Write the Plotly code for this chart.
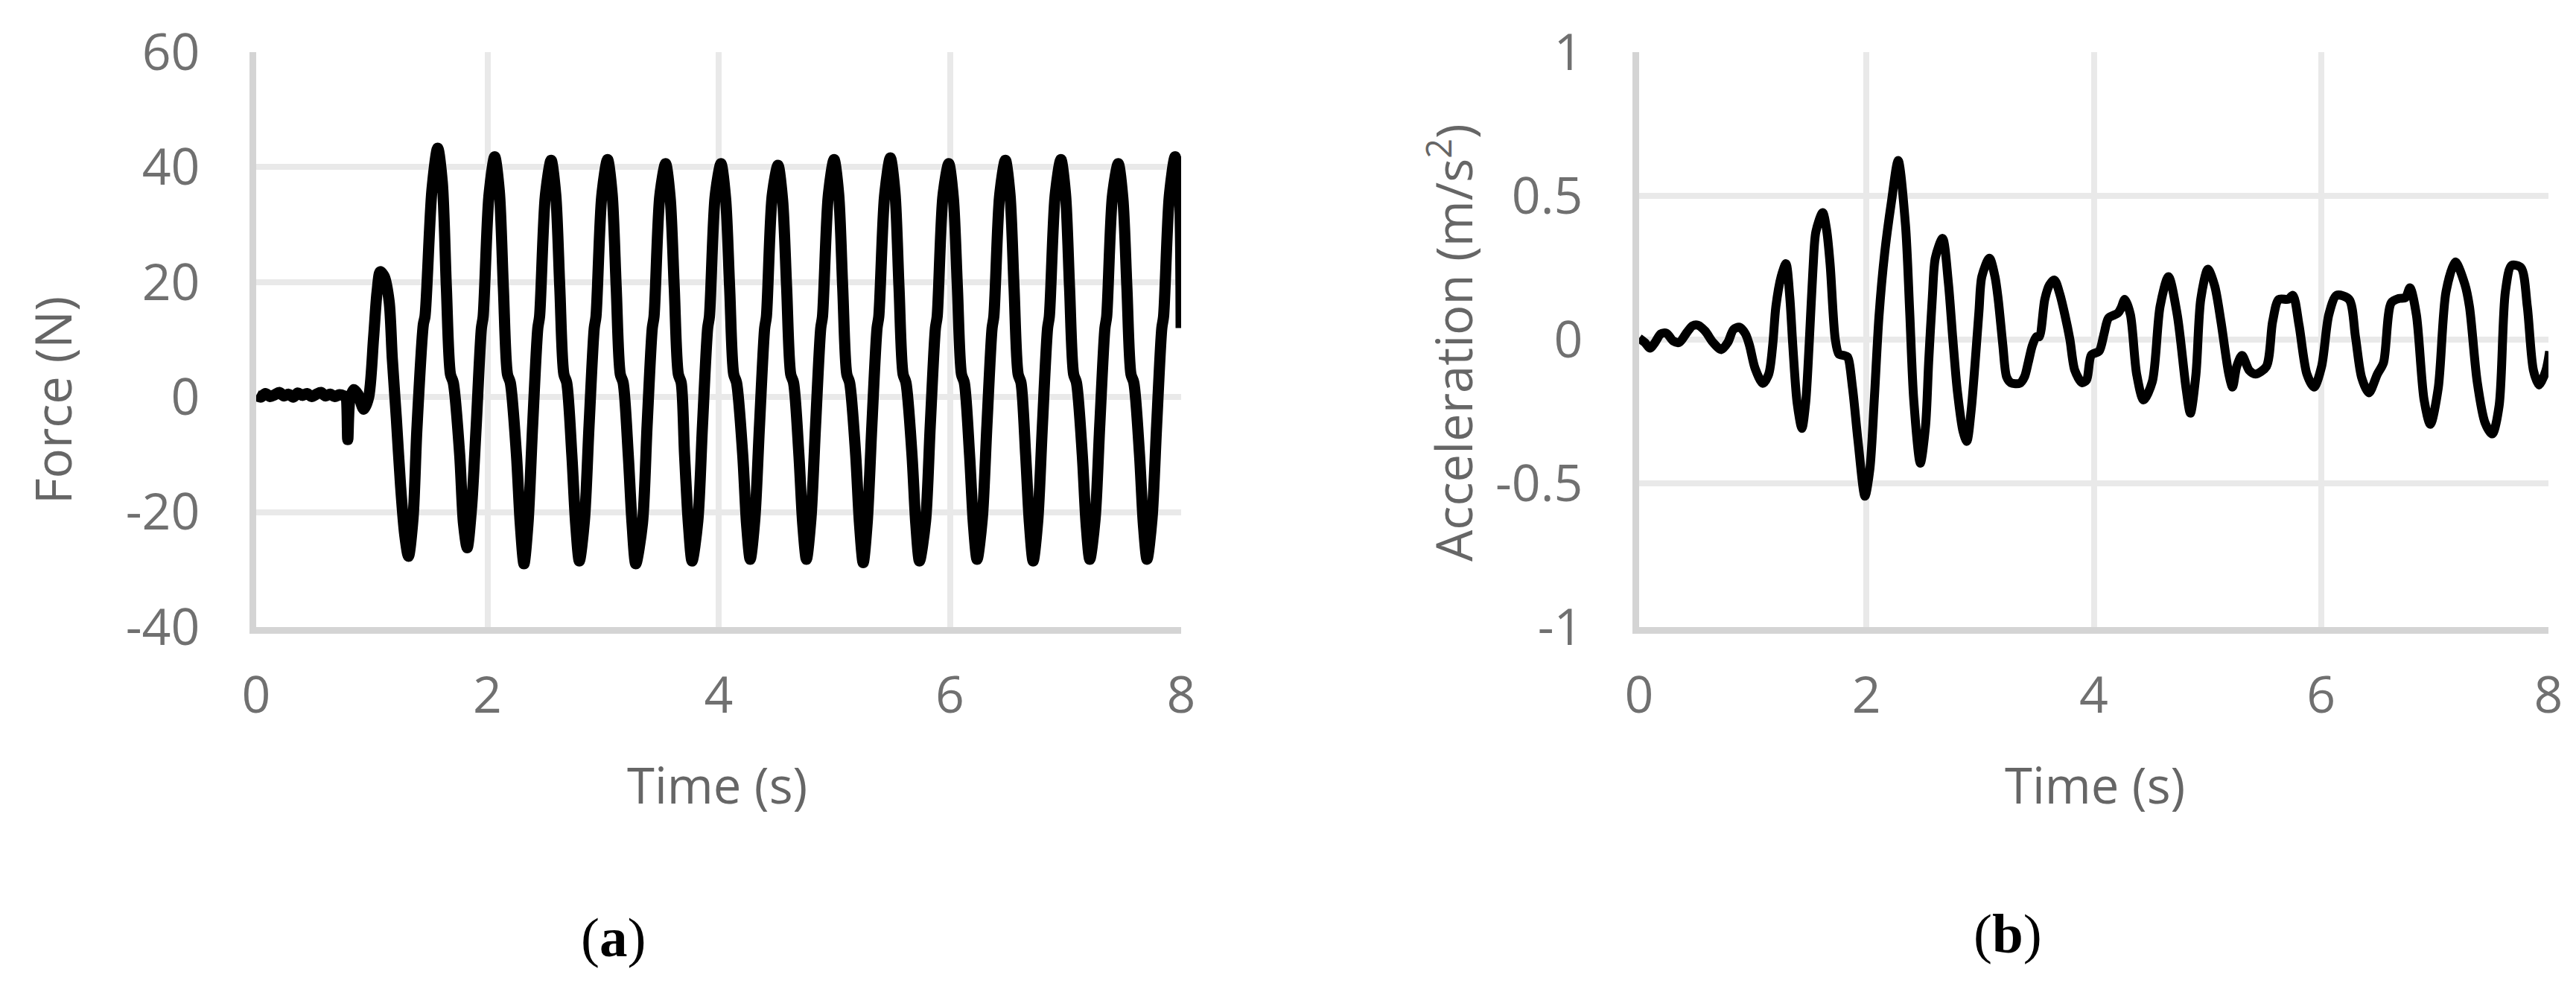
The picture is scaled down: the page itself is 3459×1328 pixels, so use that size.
import plotly.graph_objects as go

# ---------------- Panel (a): Force vs time ----------------
time_a = [
    0.00, 0.04, 0.08, 0.12, 0.16, 0.20, 0.24, 0.28, 0.32, 0.36, 0.40, 0.44, 0.48, 0.52, 0.56, 0.60,
    0.64, 0.68, 0.72, 0.76, 0.775, 0.792, 0.81, 0.845, 0.88, 0.93, 0.973, 1.015, 1.045, 1.073,
    1.107, 1.15, 1.177, 1.212, 1.249, 1.285, 1.317,
    1.357, 1.39, 1.446, 1.46, 1.52, 1.570,
    1.610, 1.645, 1.680, 1.705, 1.760, 1.793, 1.825,
    1.863, 1.903, 1.948, 1.963, 2.013, 2.063,
    2.103, 2.138, 2.173, 2.198, 2.251, 2.284, 2.316,
    2.351, 2.391, 2.436, 2.451, 2.501, 2.551,
    2.591, 2.626, 2.661, 2.686, 2.730, 2.763, 2.795,
    2.839, 2.879, 2.924, 2.939, 2.989, 3.039,
    3.079, 3.114, 3.149, 3.174, 3.218, 3.251, 3.283,
    3.341, 3.381, 3.426, 3.441, 3.491, 3.541,
    3.581, 3.616, 3.651, 3.676, 3.705, 3.738, 3.770,
    3.820, 3.860, 3.905, 3.920, 3.970, 4.020,
    4.060, 4.095, 4.130, 4.155, 4.208, 4.241, 4.273,
    4.313, 4.353, 4.398, 4.413, 4.463, 4.513,
    4.553, 4.588, 4.623, 4.648, 4.694, 4.727, 4.759,
    4.798, 4.838, 4.883, 4.898, 4.948, 4.998,
    5.038, 5.073, 5.108, 5.133, 5.185, 5.218, 5.250,
    5.285, 5.325, 5.370, 5.385, 5.435, 5.485,
    5.525, 5.560, 5.595, 5.620, 5.672, 5.705, 5.737,
    5.790, 5.830, 5.875, 5.890, 5.940, 5.990,
    6.030, 6.065, 6.100, 6.125, 6.170, 6.203, 6.235,
    6.280, 6.320, 6.365, 6.380, 6.430, 6.480,
    6.520, 6.555, 6.590, 6.615, 6.655, 6.688, 6.720,
    6.760, 6.800, 6.845, 6.860, 6.910, 6.960,
    7.000, 7.035, 7.070, 7.095, 7.145, 7.178, 7.210,
    7.256, 7.296, 7.341, 7.356, 7.406, 7.456,
    7.496, 7.531, 7.566, 7.591, 7.640, 7.673, 7.705,
    7.748, 7.788, 7.833, 7.848, 7.898, 7.948,
    7.985, 8.000,
]
force_n = [
    0.3, 0.0, 0.6, 0.1, 0.4, 0.8, 0.2, 0.5, 0.0, 0.7, 0.3, 0.6, 0.1, 0.5, 0.8, 0.2,
    0.5, 0.1, 0.4, 0.2, 0.0, -7.4, -0.5, 1.3, 0.5, -2.1, 0.0, 10.2, 18.2, 21.8,
    21.0, 16.6, 6.8, -3.6, -15.5, -24.0, -27.7,
    -21.0, -5.6, 12.7, 14.0, 36.0, 43.3,
    37.3, 19.0, 4.0, 2.5, -10.0, -22.0, -26.2,
    -19.2, -5.0, 12.0, 14.0, 35.0, 41.8,
    35.8, 19.0, 4.0, 2.5, -10.0, -22.0, -29.0,
    -22.0, -5.0, 12.0, 14.0, 35.0, 41.2,
    35.2, 19.0, 4.0, 2.5, -10.0, -22.0, -28.5,
    -21.5, -5.0, 12.0, 14.0, 35.0, 41.3,
    35.3, 19.0, 4.0, 2.5, -10.0, -22.0, -29.0,
    -22.0, -5.0, 12.0, 14.0, 35.0, 40.6,
    34.6, 19.0, 4.0, 2.5, -10.0, -22.0, -28.5,
    -21.5, -5.0, 12.0, 14.0, 35.0, 40.6,
    34.6, 19.0, 4.0, 2.5, -10.0, -22.0, -28.2,
    -21.2, -5.0, 12.0, 14.0, 35.0, 40.3,
    34.3, 19.0, 4.0, 2.5, -10.0, -22.0, -28.2,
    -21.2, -5.0, 12.0, 14.0, 35.0, 41.3,
    35.3, 19.0, 4.0, 2.5, -10.0, -22.0, -28.8,
    -21.8, -5.0, 12.0, 14.0, 35.0, 41.6,
    35.6, 19.0, 4.0, 2.5, -10.0, -22.0, -28.5,
    -21.5, -5.0, 12.0, 14.0, 35.0, 40.6,
    34.6, 19.0, 4.0, 2.5, -10.0, -22.0, -28.2,
    -21.2, -5.0, 12.0, 14.0, 35.0, 41.2,
    35.2, 19.0, 4.0, 2.5, -10.0, -22.0, -28.5,
    -21.5, -5.0, 12.0, 14.0, 35.0, 41.3,
    35.3, 19.0, 4.0, 2.5, -10.0, -22.0, -28.2,
    -21.2, -5.0, 12.0, 14.0, 35.0, 40.6,
    34.6, 19.0, 4.0, 2.5, -10.0, -22.0, -28.2,
    -21.2, -5.0, 12.0, 14.0, 35.0, 41.8,
    35.0, 12.0,
]

# ---------------- Panel (b): Acceleration vs time ----------------
time_b = [
    0.000, 0.050, 0.095, 0.140, 0.190, 0.241, 0.300, 0.352, 0.420, 0.470, 0.518, 0.580, 0.650,
    0.723, 0.780, 0.830, 0.883, 0.935, 0.971, 1.020, 1.088, 1.140, 1.175, 1.203, 1.250, 1.292,
    1.325, 1.351, 1.390, 1.432, 1.465, 1.496, 1.530, 1.555, 1.615, 1.650, 1.681, 1.725, 1.757,
    1.800, 1.833, 1.877, 1.925, 1.987, 2.030, 2.070, 2.110, 2.160, 2.220, 2.279, 2.343, 2.380,
    2.416, 2.474, 2.520, 2.547, 2.580, 2.606, 2.670, 2.720, 2.760, 2.800, 2.850, 2.883, 2.920,
    2.956, 2.990, 3.015, 3.082, 3.130, 3.159, 3.200, 3.233, 3.270, 3.349, 3.390, 3.423, 3.460,
    3.496, 3.520, 3.569, 3.610, 3.654, 3.700, 3.744, 3.790, 3.833, 3.897, 3.937, 3.978, 4.047,
    4.090, 4.130, 4.212, 4.240, 4.273, 4.322, 4.377, 4.438, 4.515, 4.583, 4.657, 4.734, 4.812,
    4.850, 4.899, 4.941, 5.004, 5.064, 5.119, 5.188, 5.221, 5.257, 5.304, 5.367, 5.422, 5.518,
    5.573, 5.628, 5.710, 5.752, 5.806, 5.875, 5.938, 6.004, 6.068, 6.137, 6.246, 6.302, 6.357,
    6.420, 6.495, 6.549, 6.617, 6.686, 6.742, 6.782, 6.838, 6.906, 6.961, 7.030, 7.099, 7.181,
    7.264, 7.305, 7.373, 7.443, 7.506, 7.566, 7.621, 7.676, 7.759, 7.814, 7.868, 7.918, 7.978,
    8.010,
]
accel_ms2 = [
    0.005, -0.010, -0.030, -0.010, 0.020, 0.022, -0.005, -0.010, 0.025, 0.048, 0.050, 0.030, -0.010,
    -0.035, -0.010, 0.035, 0.043, 0.020, -0.020, -0.100, -0.152, -0.120, -0.020, 0.115, 0.220, 0.264,
    0.150, -0.015, -0.220, -0.309, -0.220, -0.015, 0.250, 0.375, 0.442, 0.380, 0.258, 0.003, -0.050,
    -0.055, -0.060, -0.167, -0.350, -0.545, -0.450, -0.200, 0.080, 0.300, 0.480, 0.623, 0.400, 0.100,
    -0.210, -0.430, -0.300, -0.080, 0.150, 0.284, 0.352, 0.200, 0.000, -0.180, -0.320, -0.354, -0.250,
    -0.080, 0.100, 0.219, 0.283, 0.220, 0.140, -0.020, -0.130, -0.150, -0.152, -0.130, -0.080, -0.020,
    0.010, 0.010, 0.140, 0.190, 0.207, 0.160, 0.089, 0.000, -0.107, -0.150, -0.140, -0.054, -0.040,
    0.020, 0.075, 0.092, 0.110, 0.140, 0.087, -0.120, -0.210, -0.146, 0.115, 0.219, 0.087, -0.170,
    -0.256, -0.120, 0.140, 0.245, 0.186, 0.062, -0.120, -0.165, -0.094, -0.055, -0.107, -0.120, -0.094,
    0.062, 0.140, 0.140, 0.154, 0.050, -0.120, -0.165, -0.094, 0.087, 0.154, 0.140, 0.010, -0.133,
    -0.185, -0.120, -0.080, 0.128, 0.143, 0.146, 0.180, 0.087, -0.210, -0.295, -0.170, 0.167, 0.270,
    0.193, 0.115, -0.146, -0.290, -0.328, -0.230, 0.167, 0.258, 0.250, 0.115, -0.107, -0.158, -0.107,
    -0.041,
]

# ---------------- Tick definitions ----------------
x_tickvals = [0, 2, 4, 6, 8]
x_ticktext = ["0", "2", "4", "6", "8"]
ya_tickvals = [-40, -20, 0, 20, 40, 60]
ya_ticktext = ["-40", "-20", "0", "20", "40", "60"]
yb_tickvals = [-1, -0.5, 0, 0.5, 1]
yb_ticktext = ["-1", "-0.5", "0", "0.5", "1"]

W, H = 3459, 1328
TICK_FONT = dict(family="Open Sans", size=68, color="#707070")
TITLE_FONT = dict(family="Open Sans", size=67, color="#666666")
CAP_FONT = dict(family="Liberation Serif", size=75, color="#000000")
GRID = "#e9e9e9"
AXLINE = "#d4d4d4"

fig = go.Figure()
fig.add_trace(go.Scatter(x=time_a, y=force_n, mode="lines",
                         line=dict(color="#000000", width=15, shape="spline", smoothing=0.8),
                         xaxis="x", yaxis="y", showlegend=False, hoverinfo="skip"))
fig.add_trace(go.Scatter(x=time_b, y=accel_ms2, mode="lines",
                         line=dict(color="#000000", width=12, shape="spline", smoothing=0.8),
                         xaxis="x2", yaxis="y2", showlegend=False, hoverinfo="skip"))

def xax(domain, anchor):
    return dict(domain=domain, anchor=anchor, range=[0, 8], tickmode="array",
                tickvals=x_tickvals, ticktext=x_ticktext, showgrid=True, gridcolor=GRID,
                gridwidth=8, showline=True, linecolor=AXLINE, linewidth=9, zeroline=False,
                ticks="", ticklabelstandoff=24, tickfont=TICK_FONT, fixedrange=True,
                automargin=False)

def yax(domain, anchor, rng, vals, text):
    return dict(domain=domain, anchor=anchor, range=rng, tickmode="array",
                tickvals=vals, ticktext=text, showgrid=True, gridcolor=GRID,
                gridwidth=8, showline=True, linecolor=AXLINE, linewidth=9, zeroline=False,
                ticks="", ticklabelstandoff=53, tickfont=TICK_FONT, fixedrange=True,
                automargin=False)

ydom = [1 - 834 / H, 1 - 62 / H]
fig.update_layout(
    width=W, height=H, autosize=False,
    margin=dict(l=0, r=0, t=0, b=0, pad=0),
    paper_bgcolor="white", plot_bgcolor="white",
    showlegend=False,
    xaxis=xax([336 / W, 1578 / W], "y"),
    yaxis=yax(ydom, "x", [-40, 60], ya_tickvals, ya_ticktext),
    xaxis2=xax([2193 / W, 3414 / W], "y2"),
    yaxis2=yax(ydom, "x2", [-1, 1], yb_tickvals, yb_ticktext),
)

annotations = [
    dict(text="Force (N)", x=62 / W, y=1 - 530 / H, textangle=-90, font=TITLE_FONT),
    dict(text="Acceleration (m/s<sup>2</sup>)", x=1940 / W, y=1 - 452 / H, textangle=-90, font=TITLE_FONT),
    dict(text="Time (s)", x=955 / W, y=1 - 1045 / H, font=TITLE_FONT),
    dict(text="Time (s)", x=2805 / W, y=1 - 1045 / H, font=TITLE_FONT),
    dict(text="(<b>a</b>)", x=815 / W, y=1 - 1250 / H, font=CAP_FONT),
    dict(text="(<b>b</b>)", x=2688 / W, y=1 - 1245 / H, font=CAP_FONT),
]
for a in annotations:
    a.update(xref="paper", yref="paper", showarrow=False, xanchor="center", yanchor="middle")
fig.update_layout(annotations=annotations)

fig.write_html("out.html")
